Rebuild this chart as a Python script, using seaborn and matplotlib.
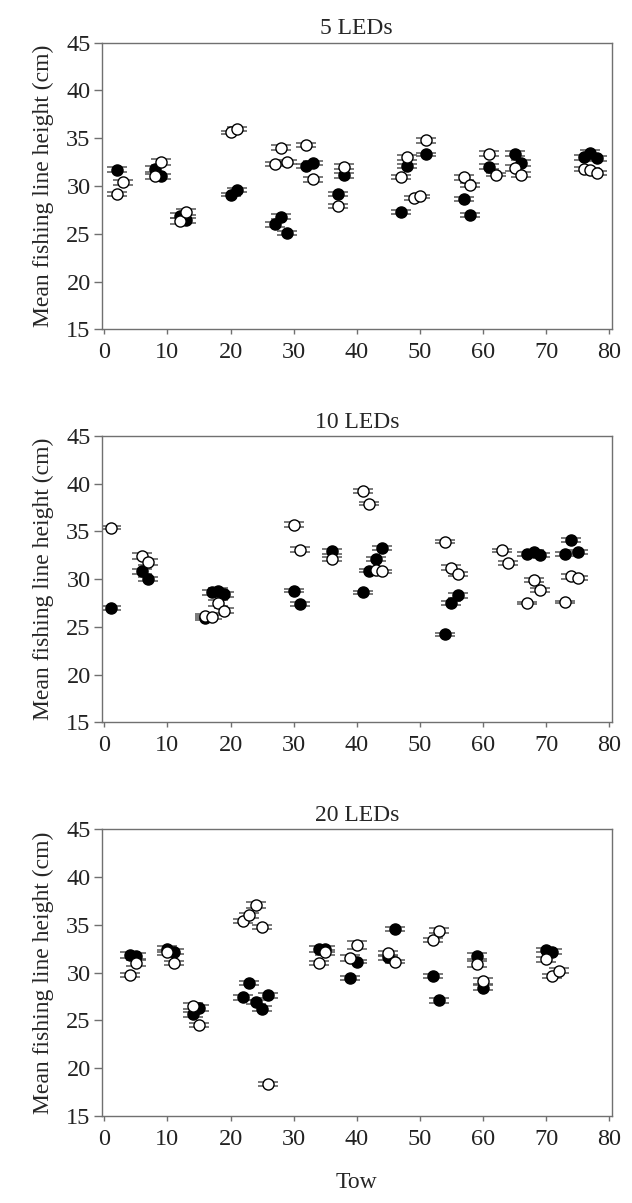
import numpy as np
import pandas as pd
import matplotlib
matplotlib.use("Agg")
import matplotlib.pyplot as plt
import seaborn as sns

# ---- data (tow number, mean height in cm, SE) ----
# 5 LEDs
tow5_on = [2, 8, 9, 12, 13, 20, 21, 27, 28, 29, 32, 33, 37, 38, 47, 48, 51, 57, 58, 61, 65, 66, 76, 77, 78]
ht5_on = [31.7, 31.8, 31.0, 26.9, 26.4, 29.1, 29.6, 26.0, 26.8, 25.1, 32.1, 32.4, 29.2, 31.1,
          27.3, 32.1, 33.3, 28.6, 27.0, 32.0, 33.4, 32.4, 33.0, 33.5, 32.9]
se5_on = [0.25, 0.3, 0.25, 0.3, 0.3, 0.2, 0.2, 0.25, 0.3, 0.2, 0.25, 0.25, 0.2, 0.25,
          0.2, 0.25, 0.2, 0.2, 0.2, 0.25, 0.3, 0.3, 0.25, 0.25, 0.25]
tow5_off = [2, 3, 8, 9, 12, 13, 20, 21, 27, 28, 29, 32, 33, 37, 38, 47, 48, 49, 50, 51,
            57, 58, 61, 62, 65, 66, 76, 77, 78]
ht5_off = [29.2, 30.4, 31.0, 32.5, 26.3, 27.3, 35.6, 36.0, 32.3, 34.0, 32.5, 34.3, 30.7, 27.9,
           32.0, 30.9, 33.0, 28.7, 28.9, 34.8, 30.9, 30.1, 33.4, 31.2, 31.9, 31.2, 31.8, 31.7, 31.4]
se5_off = [0.2, 0.25, 0.25, 0.3, 0.3, 0.3, 0.2, 0.2, 0.2, 0.25, 0.2, 0.2, 0.25, 0.2,
           0.25, 0.2, 0.25, 0.2, 0.2, 0.25, 0.25, 0.25, 0.25, 0.2, 0.3, 0.3, 0.2, 0.2, 0.2]

# 10 LEDs
tow10_on = [1, 6, 7, 16, 17, 18, 19, 30, 31, 36, 41, 42, 43, 44, 54, 55, 56, 67, 68, 69, 73, 74, 75]
ht10_on = [27.0, 30.8, 30.0, 25.9, 28.6, 28.8, 28.4, 28.8, 27.4, 32.9, 28.6, 30.9, 32.1, 33.3,
           24.2, 27.5, 28.3, 32.6, 32.8, 32.5, 32.6, 34.1, 32.8]
se10_on = [0.2, 0.3, 0.2, 0.2, 0.3, 0.3, 0.3, 0.2, 0.2, 0.3, 0.2, 0.2, 0.25, 0.2,
           0.2, 0.2, 0.25, 0.2, 0.2, 0.2, 0.2, 0.25, 0.2]
tow10_off = [1, 6, 7, 16, 17, 18, 19, 30, 31, 36, 41, 42, 43, 44, 54, 55, 56, 63, 64,
             67, 68, 69, 73, 74, 75]
ht10_off = [35.4, 32.4, 31.8, 26.1, 26.0, 27.5, 26.7, 35.7, 33.1, 32.1, 39.2, 37.9, 31.0, 30.8,
            33.9, 31.2, 30.5, 33.0, 31.7, 27.5, 29.9, 28.9, 27.6, 30.3, 30.1]
se10_off = [0.15, 0.3, 0.3, 0.2, 0.2, 0.3, 0.25, 0.25, 0.25, 0.25, 0.2, 0.15, 0.2, 0.2,
            0.15, 0.25, 0.2, 0.2, 0.2, 0.15, 0.25, 0.2, 0.15, 0.25, 0.2]

# 20 LEDs
tow20_on = [4, 5, 10, 11, 14, 15, 22, 23, 24, 25, 26, 34, 35, 39, 40, 45, 46, 52, 53, 59, 60, 70, 71]
ht20_on = [31.8, 31.7, 32.5, 32.2, 25.6, 26.3, 27.4, 28.9, 26.9, 26.2, 27.6, 32.5, 32.5, 29.4,
           31.15, 31.6, 34.6, 29.65, 27.1, 31.7, 28.4, 32.35, 32.2]
se20_on = [0.3, 0.3, 0.3, 0.3, 0.25, 0.3, 0.25, 0.2, 0.25, 0.25, 0.3, 0.3, 0.3, 0.2,
           0.2, 0.25, 0.2, 0.2, 0.25, 0.3, 0.25, 0.25, 0.25]
tow20_off = [4, 5, 10, 11, 14, 15, 22, 23, 24, 25, 26, 34, 35, 39, 40, 45, 46, 52, 53, 59, 60,
             70, 71, 72]
ht20_off = [29.7, 31.0, 32.1, 31.0, 26.5, 24.5, 35.4, 36.0, 37.1, 34.8, 18.3, 31.0, 32.1, 31.5,
            32.9, 32.0, 31.15, 33.4, 34.4, 30.9, 29.1, 31.4, 29.6, 30.2]
se20_off = [0.2, 0.3, 0.3, 0.25, 0.3, 0.2, 0.2, 0.25, 0.3, 0.2, 0.2, 0.2, 0.25, 0.3,
            0.45, 0.3, 0.2, 0.25, 0.25, 0.3, 0.3, 0.25, 0.2, 0.25]

panels = [
    ("5 LEDs", tow5_on, ht5_on, se5_on, tow5_off, ht5_off, se5_off),
    ("10 LEDs", tow10_on, ht10_on, se10_on, tow10_off, ht10_off, se10_off),
    ("20 LEDs", tow20_on, ht20_on, se20_on, tow20_off, ht20_off, se20_off),
]

sns.set_theme(style="ticks")
plt.rcParams["font.family"] = ["Liberation Serif", "DejaVu Serif"]
plt.rcParams["axes.edgecolor"] = "#707070"
plt.rcParams["xtick.color"] = "#707070"
plt.rcParams["ytick.color"] = "#707070"
plt.rcParams["xtick.labelcolor"] = "#222222"
plt.rcParams["ytick.labelcolor"] = "#222222"

fig = plt.figure(figsize=(6.32, 12.03), dpi=100)

# axes rectangles in figure fractions
boxes = [
    [0.161, 0.7263, 0.807, 0.2382],
    [0.161, 0.3996, 0.807, 0.2380],
    [0.161, 0.0726, 0.807, 0.2380],
]

for box, (title, t_on, h_on, s_on, t_off, h_off, s_off) in zip(boxes, panels):
    ax = fig.add_axes(box)
    df = pd.concat([
        pd.DataFrame({"tow": t_on, "height": h_on, "se": s_on, "light": "on"}),
        pd.DataFrame({"tow": t_off, "height": h_off, "se": s_off, "light": "off"}),
    ], ignore_index=True)

    # filled first, open circles on top
    for light, face in [("on", "black"), ("off", "white")]:
        sub = df[df["light"] == light]
        ax.errorbar(sub["tow"], sub["height"], yerr=sub["se"], fmt="none",
                    ecolor="#555555", elinewidth=1.0, capsize=7, capthick=1.1, zorder=2)
        sns.scatterplot(data=sub, x="tow", y="height", ax=ax, color=face,
                        edgecolor="black", linewidth=1.0, s=64, zorder=3, legend=False)

    ax.set_xlim(-0.4, 80.4)
    ax.set_ylim(15, 45)
    ax.set_xticks(np.arange(0, 81, 10))
    ax.set_yticks(np.arange(15, 46, 5))
    ax.tick_params(axis="y", direction="out", length=6, width=1, labelsize=17.5, pad=2)
    ax.tick_params(axis="x", direction="out", length=3.5, width=1, labelsize=17.5, pad=6)
    for sp in ax.spines.values():
        sp.set_linewidth(1.0)
    ax.set_title(title, fontsize=17, pad=6)
    ax.set_ylabel("Mean fishing line height (cm)", fontsize=17, labelpad=9)
    ax.set_xlabel("")

ax.set_xlabel("Tow", fontsize=17, labelpad=16)

fig.savefig("out.png", dpi=100)
